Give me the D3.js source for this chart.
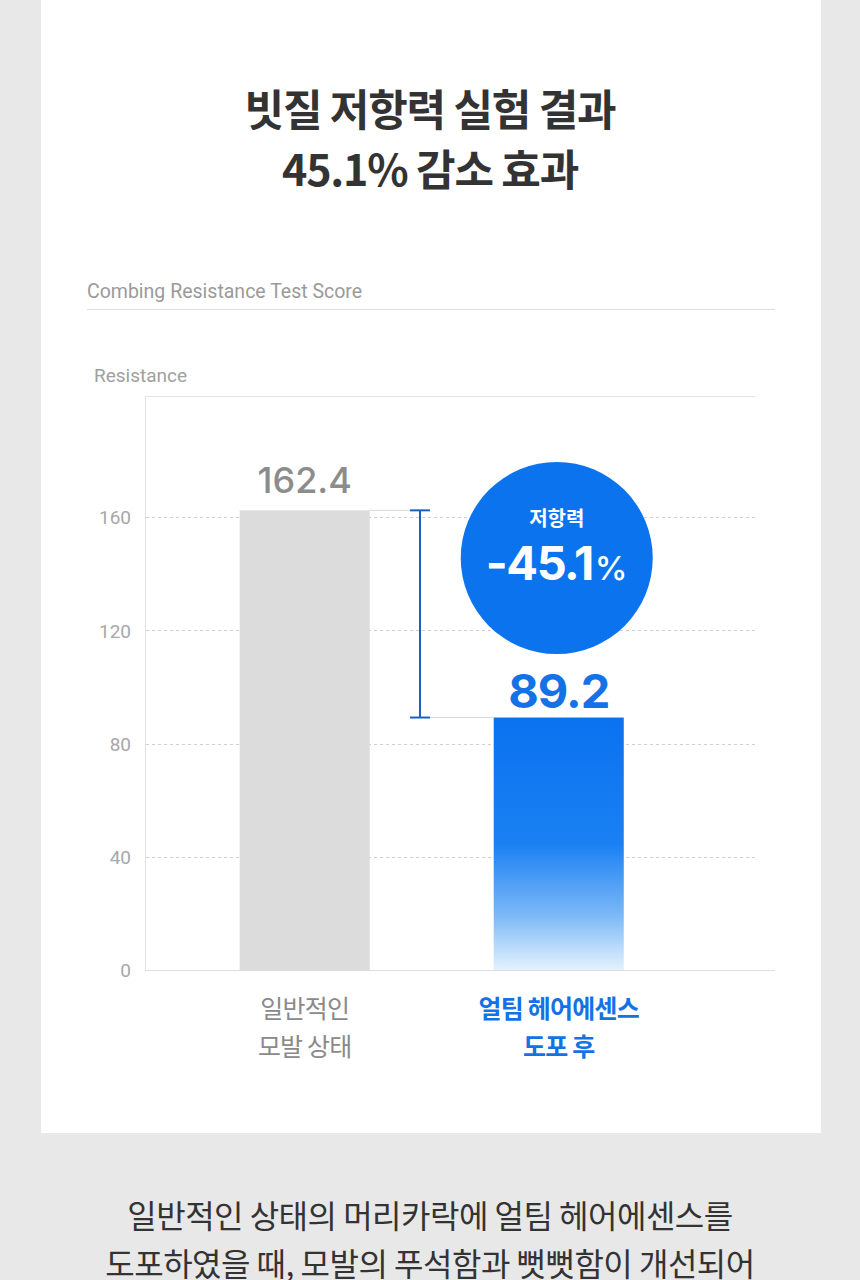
<!DOCTYPE html>
<html>
<head>
<meta charset="utf-8">
<script src="https://cdn.jsdelivr.net/npm/d3@7"></script>
<style>
  body { margin: 0; background: #e8e8e8; }
  svg { display: block; font-family: "Noto Sans CJK KR", "Noto Sans", sans-serif; }
</style>
</head>
<body>
<svg id="chart" width="860" height="1280"></svg>
<script>
// data
const categories = ["일반적인\n모발 상태", "얼팀 헤어에센스\n도포 후"]
const values = [162.4, 89.2]
const yTicks = [0, 40, 80, 120, 160]
const changeLabel = "저항력"
const changeValue = "-45.1"
const titleLines = ["빗질 저항력 실험 결과", "45.1% 감소 효과"]
const footLines = ["일반적인 상태의 머리카락에 얼팀 헤어에센스를", "도포하였을 때, 모발의 푸석함과 뻣뻣함이 개선되어"]

const svg = d3.select("#chart")
const blue = "#0b73ee"
const labelBlue = "#1471e6"

// white panel
svg.append("rect").attr("x", 41).attr("y", 0).attr("width", 780).attr("height", 1133).attr("fill", "#fff")

// title
svg.selectAll(".title").data(titleLines).enter().append("text")
    .attr("x", 430).attr("y", (d, i) => 126 + i * 60)
    .attr("text-anchor", "middle")
    .attr("font-size", 43).attr("font-weight", 700).attr("fill", "#333")
    .attr("letter-spacing", -1.2)
    .text(d => d)

// subtitle + rule
svg.append("text").attr("x", 87).attr("y", 298)
    .attr("font-family", "Roboto, sans-serif").attr("font-size", 19.5).attr("fill", "#9a9a9a")
    .text("Combing Resistance Test Score")
svg.append("line").attr("x1", 87).attr("x2", 775).attr("y1", 309.5).attr("y2", 309.5)
    .attr("stroke", "#ddd").attr("stroke-width", 1)

svg.append("text").attr("x", 94).attr("y", 382)
    .attr("font-family", "Roboto, sans-serif").attr("font-size", 19).attr("fill", "#a0a0a0")
    .text("Resistance")

// scales
const y = d3.scaleLinear().domain([0, 202.8]).range([970, 396])
const x = d3.scaleBand().domain(categories).range([145, 775])
    .paddingInner(0.488).paddingOuter(0.484).align(0.385)

// frame
svg.append("line").attr("x1", 145).attr("x2", 755).attr("y1", 396.5).attr("y2", 396.5).attr("stroke", "#e2e2e2")
svg.append("line").attr("x1", 145.5).attr("x2", 145.5).attr("y1", 396).attr("y2", 970).attr("stroke", "#e2e2e2")

// grid
const grid = svg.append("g")
grid.selectAll("line").data(yTicks.filter(d => d > 0)).enter().append("line")
    .attr("x1", 146).attr("x2", 757)
    .attr("y1", d => Math.round(y(d)) + 0.5).attr("y2", d => Math.round(y(d)) + 0.5)
    .attr("stroke", "#d0d0d0").attr("stroke-dasharray", "3,3")

// y axis labels
const yAxis = svg.append("g").attr("transform", "translate(131,0)")
    .call(d3.axisLeft(y).tickValues(yTicks).tickSize(0).tickPadding(0))
yAxis.select(".domain").remove()
yAxis.selectAll("text").attr("font-family", "Roboto, sans-serif").attr("font-size", 19)
    .attr("fill", "#a8a8a8").attr("dy", "0.35em")

// gradient
const defs = svg.append("defs")
const grad = defs.append("linearGradient").attr("id", "blueGrad")
    .attr("x1", 0).attr("x2", 0).attr("y1", 0).attr("y2", 1)
grad.append("stop").attr("offset", "0%").attr("stop-color", "#0a72ef")
grad.append("stop").attr("offset", "50%").attr("stop-color", "#1a80f3")
grad.append("stop").attr("offset", "78%").attr("stop-color", "#7ab8f7")
grad.append("stop").attr("offset", "100%").attr("stop-color", "#e4f2fd")

// bars
svg.selectAll(".bar").data(values).enter().append("rect")
    .attr("x", (d, i) => x(categories[i]))
    .attr("width", x.bandwidth())
    .attr("y", d => y(d))
    .attr("height", d => y(0) - y(d))
    .attr("fill", (d, i) => i === 0 ? "#dcdcdc" : "url(#blueGrad)")

// bottom axis line
svg.append("line").attr("x1", 145).attr("x2", 775).attr("y1", 970.5).attr("y2", 970.5).attr("stroke", "#dedede")

// value labels
svg.selectAll(".val").data(values).enter().append("text")
    .attr("x", (d, i) => x(categories[i]) + x.bandwidth() / 2)
    .attr("y", (d, i) => y(d) - (i === 0 ? 17 : 10))
    .attr("text-anchor", "middle")
    .attr("font-family", "Inter, Roboto, sans-serif")
    .attr("font-size", (d, i) => i === 0 ? 36 : 47)
    .attr("font-weight", (d, i) => i === 0 ? 500 : 700)
    .attr("fill", (d, i) => i === 0 ? "#8c8c8c" : labelBlue)
    .attr("letter-spacing", (d, i) => i === 0 ? 0 : -1)
    .text(d => d.toFixed(1))

// bracket
const bx = 420
const x0r = x(categories[0]) + x.bandwidth()
const x1l = x(categories[1])
svg.append("line").attr("x1", x0r).attr("x2", bx - 10).attr("y1", y(values[0])).attr("y2", y(values[0])).attr("stroke", "#d8d8d8")
svg.append("line").attr("x1", bx + 10).attr("x2", x1l).attr("y1", y(values[1])).attr("y2", y(values[1])).attr("stroke", "#d8d8d8")
const br = svg.append("g").attr("stroke", "#1a62bf").attr("stroke-width", 2)
br.append("line").attr("x1", bx).attr("x2", bx).attr("y1", y(values[0])).attr("y2", y(values[1]))
br.append("line").attr("x1", bx - 10).attr("x2", bx + 10).attr("y1", y(values[0])).attr("y2", y(values[0]))
br.append("line").attr("x1", bx - 10).attr("x2", bx + 10).attr("y1", y(values[1])).attr("y2", y(values[1]))

// badge circle
const cx = x(categories[1]) + x.bandwidth() / 2 - 2
svg.append("circle").attr("cx", cx).attr("cy", 558).attr("r", 96).attr("fill", blue)
svg.append("text").attr("x", cx).attr("y", 526).attr("text-anchor", "middle")
    .attr("font-size", 20).attr("font-weight", 700).attr("fill", "#fff").text(changeLabel)
const pct = svg.append("text").attr("x", cx).attr("y", 580).attr("text-anchor", "middle")
    .attr("font-family", "Inter, Roboto, sans-serif").attr("fill", "#fff")
pct.append("tspan").attr("font-size", 47).attr("font-weight", 700).attr("letter-spacing", -1.5).text(changeValue)
pct.append("tspan").attr("font-size", 33).attr("font-weight", 500).attr("dx", 2).text("%")

// category labels
svg.selectAll(".cat").data(categories).enter().append("text")
    .attr("text-anchor", "middle")
    .attr("font-size", 25)
    .attr("font-weight", (d, i) => i === 0 ? 400 : 700)
    .attr("fill", (d, i) => i === 0 ? "#8a8a8a" : labelBlue)
    .attr("letter-spacing", -0.8)
    .each(function(d, i) {
        d3.select(this).selectAll("tspan").data(d.split("\n")).enter().append("tspan")
            .attr("x", x(d) + x.bandwidth() / 2)
            .attr("y", (t, j) => 1018 + j * 38)
            .text(t => t)
    })

// footer text
svg.selectAll(".foot").data(footLines).enter().append("text")
    .attr("x", 430).attr("y", (d, i) => 1228 + i * 48)
    .attr("text-anchor", "middle")
    .attr("font-size", 32).attr("fill", "#333")
    .attr("letter-spacing", -0.5)
    .text(d => d)
</script>
</body>
</html>
